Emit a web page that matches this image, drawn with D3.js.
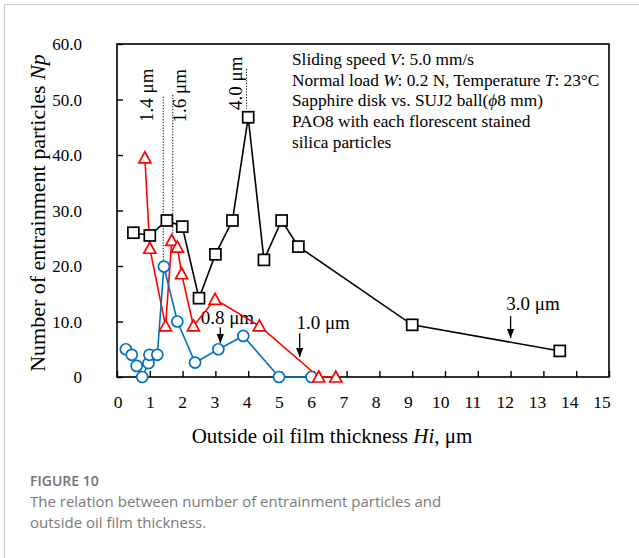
<!DOCTYPE html>
<html>
<head>
<meta charset="utf-8">
<script src="https://cdn.jsdelivr.net/npm/d3@7"></script>
<style>
  body { margin: 0; background: #fff; }
  svg { display: block; }
</style>
</head>
<body>
<svg id="chart" width="639" height="558"></svg>
<script>
// values
const squareX = [0.5, 1.0, 1.52, 1.99, 2.5, 3.0, 3.52, 4.0, 4.48, 5.02, 5.53, 9.0, 13.5];
const squareY = [26.0, 25.5, 28.2, 27.1, 14.2, 22.1, 28.2, 46.8, 21.1, 28.2, 23.5, 9.4, 4.7];

const triangleX = [0.85, 1.0, 1.48, 1.67, 1.84, 1.97, 2.33, 2.99, 4.34, 6.15, 6.67];
const triangleY = [39.5, 23.2, 9.2, 24.6, 23.4, 18.6, 9.2, 14.0, 9.2, 0, 0];

const circleX = [0.27, 0.45, 0.6, 0.77, 0.96, 0.99, 1.23, 1.43, 1.84, 2.38, 3.09, 3.85, 4.94, 5.93];
const circleY = [5.0, 4.0, 2.0, 0, 2.5, 4.0, 4.0, 19.9, 10.0, 2.6, 5.0, 7.4, 0, 0];

const xTicks = d3.range(0, 16);
const yTicks = [0, 10, 20, 30, 40, 50, 60];

const infoLines = [
  'Sliding speed <V>: 5.0 mm/s',
  'Normal load <W>: 0.2 N, Temperature <T>: 23°C',
  'Sapphire disk vs. SUJ2 ball(<ϕ>8 mm)',
  'PAO8 with each florescent stained',
  'silica particles'
];

// vertical labels with dotted guides (data units)
const guideLabels = ['1.4 μm', '1.6 μm', '4.0 μm'];
const guideX = [1.41, 1.70, 3.95];
const guideTop = [50.5, 50.8, 55.5];
const guideBottom = [20.6, 25.5, 48.3];

// arrow labels (data units)
const arrowLabels = ['0.8 μm', '1.0 μm', '3.0 μm'];
const arrowX = [3.15, 5.57, 12.0];
const arrowTop = [8.9, 7.9, 11.0];
const arrowBottom = [6.1, 3.6, 7.0];
const arrowTextX = [2.55, 5.47, 11.87];
const arrowTextY = [9.6, 8.7, 12.0];

const svg = d3.select('#chart');
const serif = '"Liberation Serif", "Times New Roman", serif';

// page frame
svg.append('line').attr('x1', 4.5).attr('x2', 639).attr('y1', 4.5).attr('y2', 4.5)
  .attr('stroke', '#c8c8c8');
svg.append('line').attr('x1', 4.5).attr('x2', 4.5).attr('y1', 4.5).attr('y2', 558)
  .attr('stroke', '#c8c8c8');

const x = d3.scaleLinear().domain([0, 15]).range([117, 609]);
const y = d3.scaleLinear().domain([0, 60]).range([377, 44]);
// tick labels sit a little tighter than the ticks in the original
const xLab = d3.scaleLinear().domain([0, 15]).range([118, 602]);

// frame of plot
svg.append('rect')
  .attr('x', x(0)).attr('y', y(60))
  .attr('width', x(15) - x(0)).attr('height', y(0) - y(60))
  .attr('fill', 'none').attr('stroke', '#000').attr('stroke-width', 1.6);

// axes with inward ticks
const xAxis = svg.append('g')
  .attr('transform', `translate(0,${y(0)})`)
  .call(d3.axisBottom(x).tickValues(xTicks).tickSize(-6).tickFormat(''));
const yAxis = svg.append('g')
  .attr('transform', `translate(${x(0)},0)`)
  .call(d3.axisLeft(y).tickValues(yTicks).tickSize(-6).tickFormat(''));
[xAxis, yAxis].forEach(g => {
  g.select('.domain').remove();
  g.selectAll('.tick line').attr('stroke', '#000').attr('stroke-width', 1.4);
});

svg.append('g').selectAll('text').data(xTicks).join('text')
  .attr('x', d => xLab(d)).attr('y', 408)
  .attr('text-anchor', 'middle')
  .attr('font-family', serif).attr('font-size', 17.5)
  .text(d => d);

svg.append('g').selectAll('text').data(yTicks).join('text')
  .attr('x', 82).attr('y', d => y(d) + 6)
  .attr('text-anchor', 'end')
  .attr('font-family', serif).attr('font-size', 17)
  .text(d => d === 0 ? '0' : d.toFixed(1));

// axis titles
const xTitle = svg.append('text')
  .attr('x', 332).attr('y', 443)
  .attr('text-anchor', 'middle')
  .attr('font-family', serif).attr('font-size', 21);
xTitle.append('tspan').text('Outside oil film thickness ');
xTitle.append('tspan').attr('font-style', 'italic').text('Hi');
xTitle.append('tspan').text(', μm');

const yTitle = svg.append('text')
  .attr('transform', 'translate(45,213) rotate(-90)')
  .attr('text-anchor', 'middle')
  .attr('font-family', serif).attr('font-size', 22);
yTitle.append('tspan').text('Number of entrainment particles ');
yTitle.append('tspan').attr('font-style', 'italic').text('Np');

// info block
const info = svg.append('g').attr('font-family', serif).attr('font-size', 17.3);
infoLines.forEach((ln, i) => {
  const t = info.append('text').attr('x', 292).attr('y', 65 + i * 20.7);
  ln.split(/(<[^>]+>)/).filter(s => s.length).forEach(part => {
    if (part.startsWith('<')) t.append('tspan').attr('font-style', 'italic').text(part.slice(1, -1));
    else t.append('tspan').text(part);
  });
});

// dotted guides and vertical labels
guideLabels.forEach((lab, i) => {
  svg.append('line')
    .attr('x1', x(guideX[i])).attr('x2', x(guideX[i]))
    .attr('y1', y(guideTop[i])).attr('y2', y(guideBottom[i]))
    .attr('stroke', '#000').attr('stroke-width', 1).attr('stroke-dasharray', '1.2,1.6');
});
const guideTextX = [153, 185.5, 242];
const guideTextY = [122, 69, 110];
const guideAnchor = ['start', 'end', 'start'];
guideLabels.forEach((lab, i) => {
  svg.append('text')
    .attr('transform', `translate(${guideTextX[i]},${guideTextY[i]}) rotate(-90)`)
    .attr('text-anchor', guideAnchor[i])
    .attr('font-family', serif).attr('font-size', 19)
    .text(lab);
});

// arrows
svg.append('defs').append('marker')
  .attr('id', 'ah').attr('viewBox', '0 0 10 10').attr('refX', 10).attr('refY', 5)
  .attr('markerWidth', 7).attr('markerHeight', 7).attr('orient', 'auto')
  .append('path').attr('d', 'M0,1 L10,5 L0,9 Z').attr('fill', '#000');
arrowLabels.forEach((lab, i) => {
  svg.append('line')
    .attr('x1', x(arrowX[i])).attr('x2', x(arrowX[i]))
    .attr('y1', y(arrowTop[i])).attr('y2', y(arrowBottom[i]))
    .attr('stroke', '#000').attr('stroke-width', 1.3).attr('marker-end', 'url(#ah)');
  svg.append('text')
    .attr('x', x(arrowTextX[i])).attr('y', y(arrowTextY[i]))
    .attr('font-family', serif).attr('font-size', 19)
    .text(lab);
});

// series
const line = d3.line().x(d => x(d[0])).y(d => y(d[1]));
const squares = d3.zip(squareX, squareY);
const triangles = d3.zip(triangleX, triangleY);
const circles = d3.zip(circleX, circleY);

svg.append('path').datum(squares).attr('d', line)
  .attr('fill', 'none').attr('stroke', '#000').attr('stroke-width', 1.6);
svg.append('path').datum(triangles).attr('d', line)
  .attr('fill', 'none').attr('stroke', '#ff0000').attr('stroke-width', 1.6);
svg.append('path').datum(circles).attr('d', line)
  .attr('fill', 'none').attr('stroke', '#0070c0').attr('stroke-width', 1.6);

svg.append('g').selectAll('path').data(circles).join('path')
  .attr('d', d3.symbol(d3.symbolCircle, 95))
  .attr('transform', d => `translate(${x(d[0])},${y(d[1])})`)
  .attr('fill', '#fff').attr('stroke', '#0070c0').attr('stroke-width', 1.7);

svg.append('g').selectAll('path').data(triangles).join('path')
  .attr('d', 'M0,-6 L6,5 L-6,5 Z')
  .attr('transform', d => `translate(${x(d[0])},${y(d[1])})`)
  .attr('fill', '#fff').attr('stroke', '#ff0000').attr('stroke-width', 1.7);

svg.append('g').selectAll('rect').data(squares).join('rect')
  .attr('x', d => x(d[0]) - 5.5).attr('y', d => y(d[1]) - 5.5)
  .attr('width', 11).attr('height', 11)
  .attr('fill', '#fff').attr('stroke', '#000').attr('stroke-width', 1.7);

// caption
const cap = svg.append('g').attr('font-family', '"Open Sans", "Noto Sans", sans-serif').attr('fill', '#7a7a7a');
cap.append('text').attr('x', 30).attr('y', 486).attr('font-size', 14).attr('font-weight', 600)
  .attr('fill', '#737373').text('FIGURE 10');
cap.append('text').attr('x', 30).attr('y', 507).attr('font-size', 15)
  .text('The relation between number of entrainment particles and');
cap.append('text').attr('x', 30).attr('y', 528).attr('font-size', 15)
  .text('outside oil film thickness.');
</script>
</body>
</html>
